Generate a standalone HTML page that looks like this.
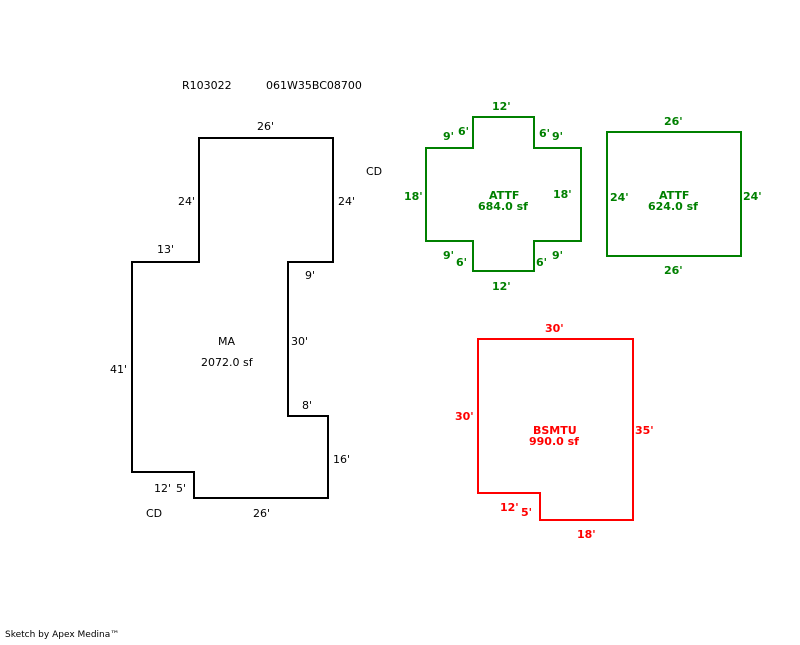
<!DOCTYPE html>
<html><head><style>
body{margin:0;background:#fff;}
svg text{font-family:"DejaVu Sans","Liberation Sans",sans-serif;font-size:11px;}
.g{fill:#008000;font-weight:bold;font-size:11px}
.r{fill:#ff0000;font-weight:bold;font-size:11px}
.k{fill:#000}
</style></head><body>
<svg width="800" height="640" xmlns="http://www.w3.org/2000/svg">
<g fill="none" stroke-width="2">
<polygon stroke="#000" points="199,138 333,138 333,262 288,262 288,416 328,416 328,498 194,498 194,472 132,472 132,262 199,262"/>
<polygon stroke="#008000" points="473,117 534,117 534,148 581,148 581,241 534,241 534,271 473,271 473,241 426,241 426,148 473,148"/>
<rect stroke="#008000" x="607" y="132" width="134" height="124"/>
<polygon stroke="#ff0000" points="478,339 633,339 633,520 540,520 540,493 478,493"/>
</g>
<g class="k">
<text x="182" y="89">R103022</text>
<text x="266" y="89">061W35BC08700</text>
<text x="257" y="130">26'</text>
<text x="366" y="175">CD</text>
<text x="178" y="205">24'</text>
<text x="338" y="205">24'</text>
<text x="157" y="253">13'</text>
<text x="305" y="279">9'</text>
<text x="291" y="345">30'</text>
<text x="218" y="345">MA</text>
<text x="201" y="366">2072.0 sf</text>
<text x="110" y="373">41'</text>
<text x="302" y="409">8'</text>
<text x="333" y="463">16'</text>
<text x="154" y="492">12'</text>
<text x="176" y="492">5'</text>
<text x="146" y="517">CD</text>
<text x="253" y="517">26'</text>
<text x="5" y="637" style="font-size:9px">Sketch by Apex Medina™</text>
</g>
<g class="g">
<text x="492" y="110">12'</text>
<text x="443" y="140">9'</text>
<text x="458" y="135">6'</text>
<text x="539" y="137">6'</text>
<text x="552" y="140">9'</text>
<text x="404" y="200">18'</text>
<text x="489" y="199">ATTF</text>
<text x="478" y="210">684.0 sf</text>
<text x="553" y="198">18'</text>
<text x="443" y="259">9'</text>
<text x="456" y="266">6'</text>
<text x="536" y="266">6'</text>
<text x="552" y="259">9'</text>
<text x="492" y="290">12'</text>
<text x="664" y="125">26'</text>
<text x="610" y="201">24'</text>
<text x="659" y="199">ATTF</text>
<text x="648" y="210">624.0 sf</text>
<text x="743" y="200">24'</text>
<text x="664" y="274">26'</text>
</g>
<g class="r">
<text x="545" y="332">30'</text>
<text x="455" y="420">30'</text>
<text x="533" y="434">BSMTU</text>
<text x="529" y="445">990.0 sf</text>
<text x="635" y="434">35'</text>
<text x="500" y="511">12'</text>
<text x="521" y="516">5'</text>
<text x="577" y="538">18'</text>
</g>
</svg>
</body></html>
